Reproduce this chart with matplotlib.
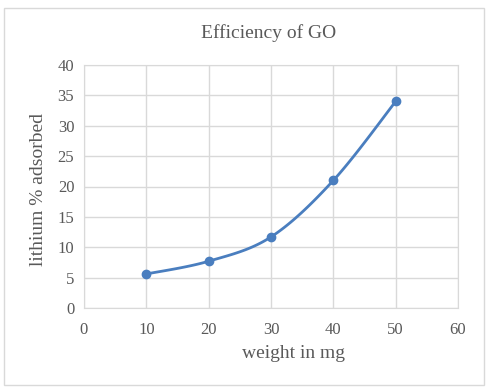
import numpy as np
import matplotlib.pyplot as plt
from matplotlib.patches import Rectangle

weights = [10, 20, 30, 40, 50]
adsorbed = [5.6, 7.7, 11.7, 21.0, 34.0]


def smooth(xs, ys, n=30):
    # Excel-like smoothed line (Catmull-Rom style bezier segments)
    xs = np.asarray(xs, float)
    ys = np.asarray(ys, float)
    px = np.concatenate([[xs[0]], xs, [xs[-1]]])
    py = np.concatenate([[ys[0]], ys, [ys[-1]]])
    outx, outy = [], []
    t = np.linspace(0, 1, n)
    for i in range(1, len(px) - 2):
        p0 = np.array([px[i], py[i]])
        p3 = np.array([px[i + 1], py[i + 1]])
        p1 = p0 + (np.array([px[i + 1], py[i + 1]]) - np.array([px[i - 1], py[i - 1]])) / 6
        p2 = p3 - (np.array([px[i + 2], py[i + 2]]) - np.array([px[i], py[i]])) / 6
        b = ((1 - t) ** 3)[:, None] * p0 + (3 * (1 - t) ** 2 * t)[:, None] * p1 \
            + (3 * (1 - t) * t ** 2)[:, None] * p2 + (t ** 3)[:, None] * p3
        outx.extend(b[:, 0])
        outy.extend(b[:, 1])
    return outx, outy


plt.rcParams['font.family'] = ['Liberation Serif', 'DejaVu Serif']
W, H = 491, 388

fig = plt.figure(figsize=(W / 100, H / 100), dpi=100)
fig.patches.append(Rectangle((4 / W, 3 / H), 480 / W, 377 / H,
                             transform=fig.transFigure, fill=False,
                             edgecolor='#d9d9d9', lw=1))
ax = fig.add_axes([84 / W, 1 - 308 / H, 374 / W, 243 / H])

color = '#4a7ebf'
sx, sy = smooth(weights, adsorbed)
ax.plot(sx, sy, color=color, lw=2, zorder=3)
ax.plot(weights, adsorbed, 'o', color=color, ms=6, zorder=4)

ax.set_xlim(0, 60)
ax.set_ylim(0, 40)
ax.set_xticks(range(0, 61, 10))
ax.set_yticks(range(0, 41, 5))
ax.grid(True, color='#d9d9d9', lw=1)
ax.set_axisbelow(True)
for s in ax.spines.values():
    s.set_color('#d9d9d9')
ax.tick_params(length=0, labelsize=12, colors='#595959')
ax.tick_params(axis='x', pad=10)
ax.tick_params(axis='y', pad=7)

txt = dict(color='#595959', fontsize=14, ha='center', va='center')
fig.text(269 / W, 1 - 33 / H, 'Efficiency of GO', **txt)
fig.text(293 / W, 1 - 354 / H, 'weight in mg', **txt)
fig.text(39 / W, 1 - 189 / H, 'lithium % adsorbed', rotation=90, **txt)

fig.savefig('out.png', dpi=100)
